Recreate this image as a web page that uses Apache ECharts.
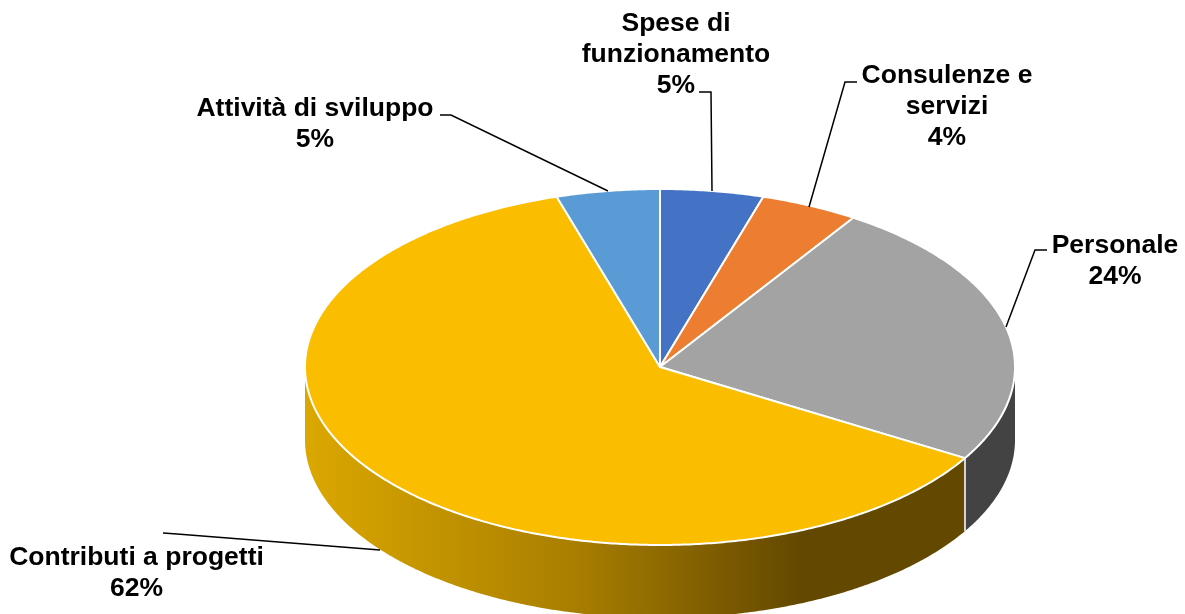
<!DOCTYPE html>
<html>
<head>
<meta charset="utf-8">
<style>html,body{margin:0;padding:0;background:#fff}#c{width:1185px;height:614px}</style>
<script src="https://cdn.jsdelivr.net/npm/echarts@6/dist/echarts.min.js"></script>
</head>
<body>
<div id="c"></div>
<script>
// Data, clockwise from 12 o'clock
const categories = ['Spese di\nfunzionamento', 'Consulenze e\nservizi', 'Personale', 'Contributi a progetti', 'Attività di sviluppo'];
const shares = [4.7, 4.47, 24.38, 61.75, 4.7];

// Styles
const topColors = ['#4472C4', '#ED7D31', '#A3A3A3', '#FBBD00', '#5B9BD5'];
const sideColors = ['#2A4476', '#8E4B1D', '#434343', null, '#375D80'];

// Layout of the tilted disc
const cx = 660, cy = 367, rx = 355, ry = 178, depth = 73;
const labelCenters = [[676, 55], [947, 107], [1115, 261.5], [136.5, 573], [315, 124]];
const leaders = [
  [[699, 92], [711, 92], [712, 191]],
  [[857, 82], [845, 82], [809, 207]],
  [[1047, 250], [1035, 250], [1006, 327]],
  [[163, 533], [177, 534], [380, 550]],
  [[440, 115], [451, 115], [608, 191]]
];

const total = shares.reduce((a, b) => a + b, 0);
const cum = [0];
shares.forEach((v, i) => cum.push(cum[i] + v));

function pt(deg, dy) {
  const t = deg * Math.PI / 180;
  return [cx + rx * Math.sin(t), cy - ry * Math.cos(t) + (dy || 0)];
}
function arc(a0, a1, dy) {
  const pts = [];
  const n = Math.max(2, Math.ceil(Math.abs(a1 - a0) * 2));
  for (let i = 0; i <= n; i++) pts.push(pt(a0 + (a1 - a0) * i / n, dy));
  return pts;
}
const yellowSide = new echarts.graphic.LinearGradient(305, 0, 800, 0, [
  { offset: 0, color: '#DBA700' },
  { offset: 0.55, color: '#A87E00' },
  { offset: 1, color: '#634800' }
], true);

function renderItem(params, api) {
  const i = params.dataIndex;
  const a0 = cum[i] / total * 360, a1 = cum[i + 1] / total * 360;
  const children = [];
  // visible rim: the front half of the disc, 90..270 degrees
  const s0 = Math.max(a0, 90), s1 = Math.min(a1, 270);
  if (s1 > s0) {
    children.push({
      type: 'polygon', z2: 1, silent: true,
      shape: { points: arc(s0, s1, 0).concat(arc(s1, s0, depth)) },
      style: { fill: sideColors[i] || yellowSide, stroke: null }
    });
    if (a0 > 90 && a0 < 270) {
      children.push({
        type: 'line', z2: 2, silent: true,
        shape: { x1: pt(a0)[0], y1: pt(a0)[1], x2: pt(a0, depth)[0], y2: pt(a0, depth)[1] },
        style: { stroke: '#E4E4E4', lineWidth: 1.8 }
      });
    }
  }
  children.push({
    type: 'polygon', z2: 3, silent: true,
    shape: { points: [[cx, cy]].concat(arc(a0, a1, 0)) },
    style: { fill: api.visual('color'), stroke: '#fff', lineWidth: 2, lineJoin: 'round' }
  });
  children.push({
    type: 'polyline', z2: 4, silent: true,
    shape: { points: leaders[i] },
    style: { fill: null, stroke: '#000', lineWidth: 1.5 }
  });
  children.push({
    type: 'text', z2: 5, silent: true,
    style: {
      x: labelCenters[i][0], y: labelCenters[i][1],
      text: categories[i] + '\n' + Math.round(api.value(0)) + '%',
      fill: '#000', align: 'center', verticalAlign: 'middle',
      font: 'bold 26.5px "Liberation Sans", Arial, sans-serif', lineHeight: 31
    }
  });
  return { type: 'group', children: children };
}

const chart = echarts.init(document.getElementById('c'), null, { renderer: 'canvas' });
chart.setOption({
  animation: false,
  backgroundColor: '#fff',
  series: [{
    type: 'custom',
    coordinateSystem: 'none',
    renderItem: renderItem,
    data: categories.map((name, i) => ({
      name: name, value: [shares[i]], itemStyle: { color: topColors[i] }
    }))
  }]
});
</script>
</body>
</html>
